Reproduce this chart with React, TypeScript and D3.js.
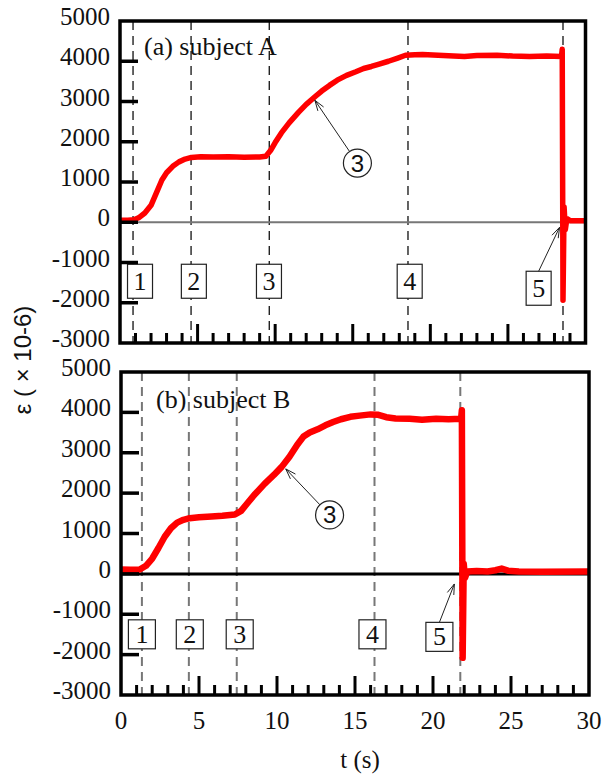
import React from "react";
import * as d3 from "d3";

// ---------- data ----------
const tA = [0, 0.5, 0.9, 1.2, 1.6, 2.0, 2.4, 2.7, 3.0, 3.4, 3.8, 4.2, 4.6, 5.2, 6, 7, 8, 9, 9.4, 9.7, 10.0, 10.4, 10.9, 11.5, 12.0, 12.6, 13.0, 13.5, 14.0, 14.6, 15.2, 15.7, 16.2, 16.7, 17.3, 17.9, 18.4, 19.0, 19.5, 20.5, 21.5, 22.2, 23, 24.3, 25.3, 26.4, 27.5, 28.45, 28.5, 28.55, 28.62, 28.7, 28.8, 29.0, 29.5, 30];
const vA = [50, 50, 60, 110, 230, 420, 780, 1050, 1230, 1390, 1500, 1570, 1610, 1630, 1620, 1625, 1615, 1620, 1640, 1780, 1980, 2220, 2470, 2730, 2930, 3130, 3260, 3400, 3530, 3650, 3740, 3820, 3870, 3930, 4000, 4080, 4150, 4160, 4170, 4150, 4130, 4120, 4140, 4150, 4130, 4120, 4130, 4120, 4300, -1940, 380, -180, 90, 40, 40, 40];

const tB = [0, 0.6, 1.2, 1.6, 2.0, 2.4, 2.8, 3.2, 3.6, 4.0, 4.4, 5, 5.8, 6.5, 7.3, 7.7, 8.1, 8.6, 9.2, 9.8, 10.3, 10.8, 11.3, 11.7, 12.1, 12.6, 13.1, 13.6, 14.1, 14.7, 15.3, 16.0, 16.5, 17.0, 17.6, 18.5, 19.3, 20.2, 21.0, 21.8, 21.85, 21.9, 21.97, 22.05, 22.2, 22.8, 23.5, 24.0, 24.4, 24.8, 25.5, 27, 30];
const vB = [110, 100, 110, 200, 380, 640, 920, 1130, 1270, 1340, 1380, 1400, 1420, 1440, 1470, 1560, 1750, 1980, 2230, 2450, 2650, 2900, 3200, 3400, 3500, 3580, 3680, 3760, 3830, 3890, 3920, 3950, 3940, 3880, 3850, 3840, 3820, 3840, 3830, 3840, 4050, -2080, 250, -100, 60, 70, 60, 90, 130, 80, 60, 55, 60];

const phaseTA = [0.84, 4.58, 9.62, 18.56, 28.55];
const phaseTB = [1.34, 4.35, 7.42, 16.25, 21.75];

const boxLabels = ["1", "2", "3", "4", "5"];
const boxTA = [1.29, 4.76, 9.6, 18.67, 26.98];
const boxVA = [-1466, -1466, -1466, -1466, -1640];
const boxTB = [1.34, 4.41, 7.61, 16.12, 20.41];
const boxVB = [-1497, -1497, -1497, -1497, -1560];

// circled "3" annotation: circle centre and arrow tip (t, value)
const circleA = { t: 15.3, v: 1470, tipT: 12.56, tipV: 3030 };
const circleB = { t: 13.37, v: 1460, tipT: 10.56, tipV: 2600 };
// arrow from box 5 to tip
const arrow5A = { tipT: 28.33, tipV: -125 };
const arrow5B = { tipT: 21.37, tipV: -250 };

const yTicks = [-3000, -2000, -1000, 0, 1000, 2000, 3000, 4000, 5000];
const xTicks = [0, 5, 10, 15, 20, 25, 30];
const xMinor = d3.range(1, 30);

const panelTitles = ["(a) subject A", "(b) subject B"];

const SERIF = "'Liberation Serif', 'Times New Roman', serif";
const SANS = "'Liberation Sans', Arial, sans-serif";

type PanelProps = {
  left: number; right: number; top: number; bottom: number;
  t: number[]; v: number[]; phases: number[];
  boxT: number[]; boxV: number[]; boxW: number; boxH: number;
  circle: { t: number; v: number; tipT: number; tipV: number };
  arrow5: { tipT: number; tipV: number };
  title: string; titleY: number; titleX: number;
  showXLabels: boolean;
  zeroColor: string; zeroWidth: number;
  dashColor: string; dashWidth: number;
  lineWidth: number;
};

function arrowHead(x1: number, y1: number, x2: number, y2: number, len = 11, ang = 0.32) {
  const a = Math.atan2(y2 - y1, x2 - x1);
  const p1 = [x2 - len * Math.cos(a - ang), y2 - len * Math.sin(a - ang)];
  const p2 = [x2 - len * Math.cos(a + ang), y2 - len * Math.sin(a + ang)];
  return `M${p1[0]},${p1[1]}L${x2},${y2}L${p2[0]},${p2[1]}`;
}

function Panel(p: PanelProps) {
  const x = d3.scaleLinear().domain([0, 30]).range([p.left, p.right]);
  const y = d3.scaleLinear().domain([-3000, 5000]).range([p.bottom, p.top]);
  const pts: [number, number][] = p.t.map((tt, i) => [tt, p.v[i]]);
  const line = d3.line<[number, number]>().x((d) => x(d[0])).y((d) => y(d[1]));

  const cx = x(p.circle.t), cy = y(p.circle.v);
  const tx = x(p.circle.tipT), ty = y(p.circle.tipV);
  const ang = Math.atan2(ty - cy, tx - cx);
  const r = 14;
  const sx = cx + r * Math.cos(ang), sy = cy + r * Math.sin(ang);

  const b5x = x(p.boxT[4]), b5top = y(p.boxV[4]) - p.boxH / 2;
  const a5x = x(p.arrow5.tipT), a5y = y(p.arrow5.tipV);

  return (
    <g>
      {/* phase lines */}
      {p.phases.map((ph, i) => (
        <line key={"ph" + i} x1={x(ph)} x2={x(ph)} y1={p.top} y2={p.bottom}
          stroke={p.dashColor} strokeWidth={p.dashWidth} strokeDasharray="9,6" />
      ))}
      {/* zero line */}
      <line x1={p.left} x2={p.right} y1={y(0)} y2={y(0)} stroke={p.zeroColor} strokeWidth={p.zeroWidth} />
      {/* boxes */}
      {boxLabels.map((lb, i) => {
        const bx = x(p.boxT[i]), by = y(p.boxV[i]);
        return (
          <g key={"bx" + i}>
            <rect x={bx - p.boxW / 2} y={by - p.boxH / 2} width={p.boxW} height={p.boxH}
              fill="white" stroke="#222" strokeWidth={1.2} />
            <text x={bx} y={by + 8.5} textAnchor="middle" fontFamily={SERIF} fontSize={26} fill="#111">{lb}</text>
          </g>
        );
      })}
      {/* data curve */}
      <path d={line(pts) || ""} fill="none" stroke="#ff0000" strokeWidth={p.lineWidth}
        strokeLinejoin="round" strokeLinecap="butt" />
      {/* circled 3 annotation */}
      <line x1={sx} y1={sy} x2={tx} y2={ty} stroke="#222" strokeWidth={1} />
      <path d={arrowHead(sx, sy, tx, ty)} fill="none" stroke="#222" strokeWidth={1} />
      <circle cx={cx} cy={cy} r={r} fill="white" stroke="#222" strokeWidth={1.2} />
      <text x={cx} y={cy + 8.5} textAnchor="middle" fontFamily={SANS} fontSize={24} fill="#111">3</text>
      {/* arrow 5 */}
      <line x1={b5x} y1={b5top} x2={a5x} y2={a5y} stroke="#222" strokeWidth={1} />
      <path d={arrowHead(b5x, b5top, a5x, a5y)} fill="none" stroke="#222" strokeWidth={1} />
      {/* title */}
      <text x={p.titleX} y={p.titleY} fontFamily={SERIF} fontSize={26} fill="#111">{p.title}</text>
      {/* frame */}
      <rect x={p.left} y={p.top} width={p.right - p.left} height={p.bottom - p.top}
        fill="none" stroke="black" strokeWidth={3.5} />
      {/* y ticks */}
      {yTicks.map((tk) => (
        <g key={"yt" + tk}>
          {tk > -3000 && tk < 5000 && (
            <line x1={p.left} x2={p.left + 18} y1={y(tk)} y2={y(tk)} stroke="black" strokeWidth={3.5} />
          )}
          <text x={p.left - 10} y={y(tk) + 4} textAnchor="end" fontFamily={SERIF} fontSize={25} fill="#111">{tk}</text>
        </g>
      ))}
      {/* x ticks */}
      {xMinor.map((tk) => (
        <line key={"xm" + tk} x1={x(tk)} x2={x(tk)} y1={p.bottom} y2={p.bottom - (tk % 5 === 0 ? 19 : 10)}
          stroke="black" strokeWidth={3} />
      ))}
      {p.showXLabels && xTicks.map((tk) => (
        <text key={"xl" + tk} x={x(tk)} y={p.bottom + 34} textAnchor="middle" fontFamily={SERIF} fontSize={25} fill="#111">{tk}</text>
      ))}
    </g>
  );
}

export default function App() {
  return (
    <svg width={609} height={776} style={{ position: "absolute", left: 0, top: 0, background: "white" }}>
      <rect x={0} y={0} width={609} height={776} fill="white" />
      <Panel left={120} right={585.5} top={21} bottom={343}
        t={tA} v={vA} phases={phaseTA} boxT={boxTA} boxV={boxVA} boxW={25} boxH={34}
        circle={circleA} arrow5={arrow5A} title={panelTitles[0]} titleX={144} titleY={55}
        showXLabels={false} zeroColor="#777" zeroWidth={2} dashColor="#111" dashWidth={1.3} lineWidth={5.5} />
      <Panel left={121} right={589} top={372} bottom={695}
        t={tB} v={vB} phases={phaseTB} boxT={boxTB} boxV={boxVB} boxW={27} boxH={29}
        circle={circleB} arrow5={arrow5B} title={panelTitles[1]} titleX={156} titleY={408}
        showXLabels={true} zeroColor="#000" zeroWidth={3} dashColor="#777" dashWidth={2} lineWidth={6.5} />
      <text transform="translate(31,360) rotate(-90)" textAnchor="middle" fontFamily={SANS} fontSize={24} fill="#111">
        ε ( × 10-6)
      </text>
      <text x={360} y={768} textAnchor="middle" fontFamily={SERIF} fontSize={25} fill="#111">t (s)</text>
    </svg>
  );
}
